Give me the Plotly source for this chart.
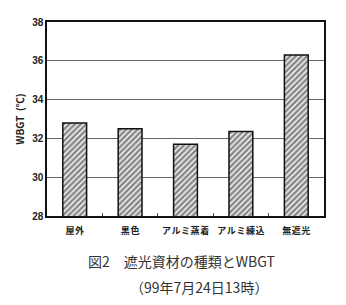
import plotly.graph_objects as go

categories = ["屋外", "黒色", "アルミ蒸着", "アルミ練込", "無遮光"]
wbgt = [32.8, 32.5, 31.7, 32.35, 36.3]
y_ticks = [28, 30, 32, 34, 36, 38]

font_jp = "Noto Sans CJK JP"
spaced = ["<b>" + "\u200a".join(c) + "</b>" for c in categories]

fig = go.Figure()
fig.add_trace(go.Bar(
    x=categories, y=wbgt,
    marker=dict(
        color="white",
        line=dict(color="#111", width=1.5),
        pattern=dict(shape="/", fgcolor="#111", bgcolor="white", size=4, solidity=0.65),
    ),
    width=0.43,
))

fig.update_layout(
    width=346, height=305,
    margin=dict(l=47, r=22, t=22, b=89),
    paper_bgcolor="white", plot_bgcolor="white",
    showlegend=False,
    font=dict(family=font_jp, color="#222"),
    xaxis=dict(
        showline=True, linecolor="#111", linewidth=1.5, mirror=True,
        ticks="inside", tickson="boundaries", ticklen=3, tickcolor="#555",
        tickvals=categories, ticktext=spaced, tickangle=0, ticklabelstandoff=5,
        tickfont=dict(size=9, family=font_jp, color="#222"),
        showgrid=False,
    ),
    yaxis=dict(
        range=[28, 38], tickvals=y_ticks,
        ticktext=["<b>%d</b>" % v for v in y_ticks],
        showline=True, linecolor="#111", linewidth=1.5, mirror=True,
        showgrid=True, gridcolor="#666", gridwidth=1,
        ticks="", tickfont=dict(size=10, family="Liberation Sans Narrow, Liberation Sans", color="#222"),
        title=dict(text="<b>WBGT  (℃)</b>", font=dict(size=10, family=font_jp, color="#222"), standoff=6),
    ),
    annotations=[
        dict(text="図2　遮光資材の種類とWBGT", x=181, y=305 - 261, xref="paper", yref="paper",
             showarrow=False, font=dict(size=14, family=font_jp, color="#333")),
        dict(text="（99年7月24日13時）", x=199, y=305 - 287, xref="paper", yref="paper",
             showarrow=False, font=dict(size=14, family=font_jp, color="#333")),
    ],
)
pw = 346 - 47 - 22
ph = 305 - 22 - 89
for a in fig.layout.annotations:
    px, py = a.x, a.y
    a.x = (px - 47) / pw
    a.y = (py - 89) / ph
    a.xanchor = "center"
    a.yanchor = "middle"

fig.write_html("out.html")
